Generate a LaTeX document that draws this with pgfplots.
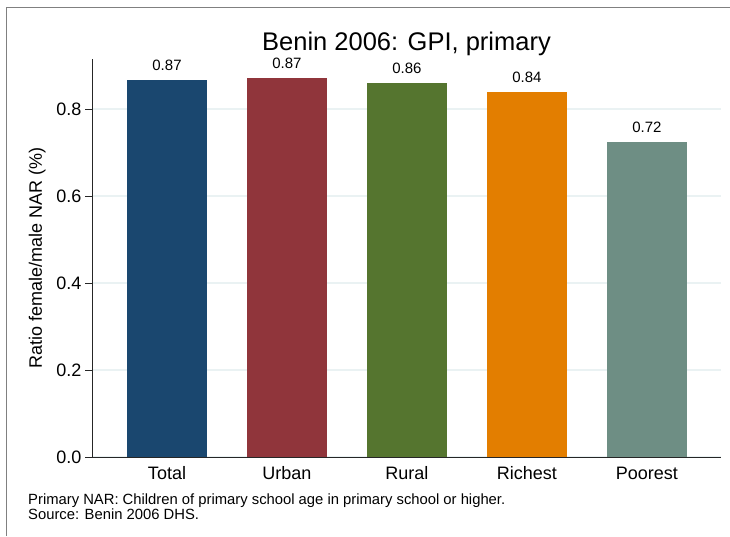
\documentclass[border=0pt]{standalone}
\usepackage{pgfplots}
\pgfplotsset{compat=1.18}
\usepackage{fontspec}
\setmainfont{Liberation Sans}

\definecolor{stNavy}{HTML}{1A476F}
\definecolor{stMaroon}{HTML}{90353B}
\definecolor{stGreen}{HTML}{55752F}
\definecolor{stOrange}{HTML}{E37E00}
\definecolor{stTeal}{HTML}{6E8E84}
\definecolor{stGrid}{HTML}{EAF2F3}

\begin{document}
\begin{tikzpicture}[x=1pt,y=1pt]
\path[use as bounding box] (0,0) rectangle (730,536);
% outer frame (cut at right and bottom)
\draw[gray, line width=1pt] (6,0) -- (6,528) -- (730,528);

\begin{axis}[
    at={(92pt,79pt)}, anchor=south west,
    scale only axis, width=629pt, height=398pt,
    xmin=-0.625, xmax=4.617, ymin=0, ymax=0.915,
    axis lines*=left,
    axis line style={line width=0.9pt, black!85},
    ybar, bar width=80pt, bar shift=0pt,
    ytick={0,0.2,0.4,0.6,0.8},
    yticklabel style={/pgf/number format/fixed, /pgf/number format/fixed zerofill,
        /pgf/number format/precision=1, /pgf/number format/assume math mode=true,
        font=\fontsize{18}{20}\selectfont},
    xtick={0,1,2,3,4},
    xticklabels={Total,Urban,Rural,Richest,Poorest},
    x tick label style={font=\fontsize{18}{20}\selectfont, anchor=base, yshift=-15pt},
    x tick style={draw=none},
    y tick style={black!85, line width=0.9pt},
    tick align=outside, major tick length=7pt,
    ymajorgrids, grid style={stGrid, line width=1.5pt},
    ylabel={Ratio female/male NAR (\%)},
    every axis y label/.style={at={(axis description cs:-0.087,0.5)}, rotate=90, anchor=center,
        font=\fontsize{18}{20}\selectfont},
    title={Benin 2006: GPI, primary},
    title style={at={(axis description cs:0.5,1.022)}, anchor=center,
        font=\fontsize{25.5}{28}\selectfont},
    nodes near coords, point meta=explicit symbolic,
    every node near coord/.append style={anchor=base, inner sep=0pt, yshift=9.5pt,
        font=\fontsize{15}{17}\selectfont, black},
]
\addplot[fill=stNavy, draw=none] coordinates {(0,0.867) [0.87]};
\addplot[fill=stMaroon, draw=none] coordinates {(1,0.872) [0.87]};
\addplot[fill=stGreen, draw=none] coordinates {(2,0.859) [0.86]};
\addplot[fill=stOrange, draw=none] coordinates {(3,0.838) [0.84]};
\addplot[fill=stTeal, draw=none] coordinates {(4,0.725) [0.72]};
\end{axis}

\node[anchor=base west, inner sep=0pt, font=\fontsize{14.8}{16}\selectfont] at (28,32)
    {Primary NAR: Children of primary school age in primary school or higher.};
\node[anchor=base west, inner sep=0pt, font=\fontsize{14.8}{16}\selectfont] at (28,17)
    {Source: Benin 2006 DHS.};
\end{tikzpicture}
\end{document}
